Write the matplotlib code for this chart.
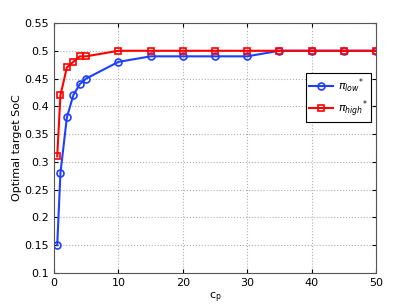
import matplotlib
matplotlib.use("Agg")
import matplotlib.pyplot as plt

# dados
cp = [0.5, 1, 2, 3, 4, 5, 10, 15, 20, 25, 30, 35, 40, 45, 50]
soc_low = [0.15, 0.28, 0.38, 0.42, 0.44, 0.45, 0.48, 0.49, 0.49, 0.49, 0.49, 0.5, 0.5, 0.5, 0.5]
soc_high = [0.31, 0.42, 0.47, 0.48, 0.49, 0.49, 0.5, 0.5, 0.5, 0.5, 0.5, 0.5, 0.5, 0.5, 0.5]

fig = plt.figure(figsize=(4.15, 3.08), dpi=100)
ax = fig.add_axes([54 / 415, 1 - 273 / 308, 322 / 415, 250 / 308])

ax.plot(cp, soc_low, color="#1f3fff", marker="o", markersize=5, markerfacecolor="none",
        markeredgewidth=1.2, linewidth=1.5, label=r"$\pi_{low}{}^{*}$")
ax.plot(cp, soc_high, color="#ff0000", marker="s", markersize=5, markerfacecolor="none",
        markeredgewidth=1.2, linewidth=1.5, label=r"$\pi_{high}{}^{*}$")

ax.set_xlim(0, 50)
ax.set_ylim(0.1, 0.55)
ax.set_xticks([0, 10, 20, 30, 40, 50])
ax.set_yticks([0.1, 0.15, 0.2, 0.25, 0.3, 0.35, 0.4, 0.45, 0.5, 0.55])
ax.set_yticklabels(["0.1", "0.15", "0.2", "0.25", "0.3", "0.35", "0.4", "0.45", "0.5", "0.55"])
ax.tick_params(direction="in", labelsize=8, length=3, top=True, right=True)
ax.grid(True, linestyle=":", color="#b0b0b0", linewidth=0.8)
for s in ax.spines.values():
    s.set_color("#555555")

ax.set_xlabel(r"c$_\mathregular{p}$", fontsize=8, labelpad=2)
ax.set_ylabel("Optimal target SoC", fontsize=8, labelpad=2)

leg = ax.legend(loc="upper right", bbox_to_anchor=(0.984, 0.8), borderaxespad=0,
                fontsize=8, fancybox=False, edgecolor="black", framealpha=1,
                handlelength=2.2, labelspacing=0.3, borderpad=0.3, handletextpad=0.4)
leg.get_frame().set_linewidth(0.8)

fig.savefig("out.png", dpi=100)
